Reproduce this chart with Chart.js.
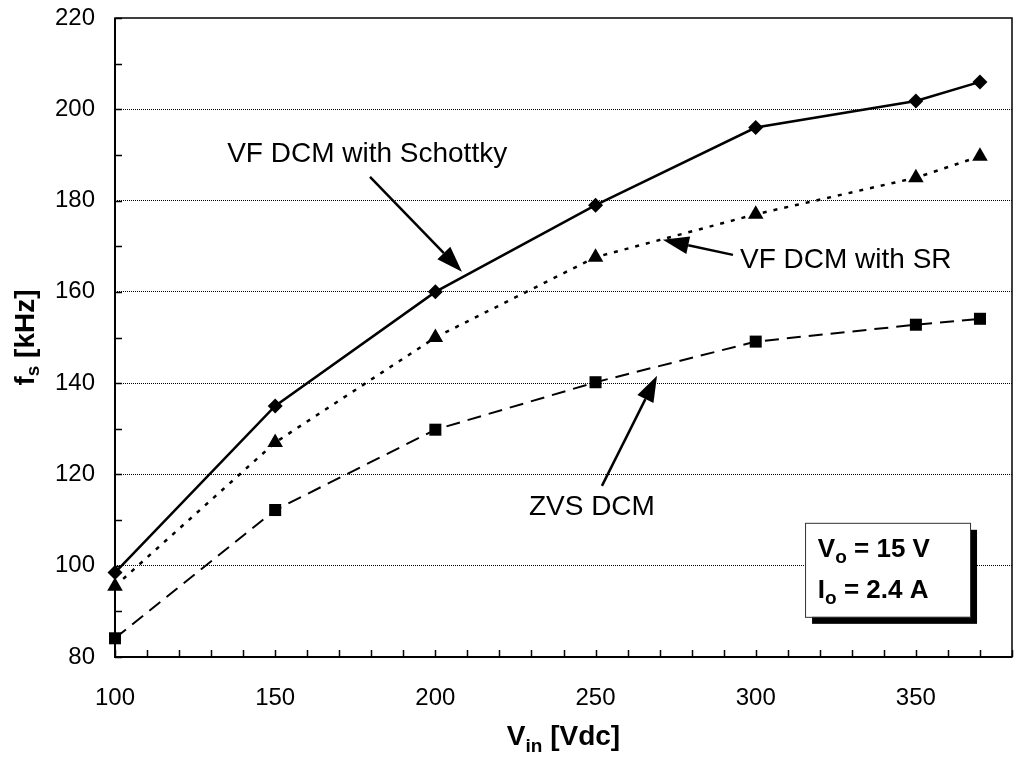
<!DOCTYPE html>
<html>
<head>
<meta charset="utf-8">
<script src="https://cdn.jsdelivr.net/npm/chart.js@4/dist/chart.umd.min.js"></script>
<style>
  html, body { margin: 0; padding: 0; background: #fff; }
</style>
</head>
<body>
<canvas id="fs-chart" width="1016" height="761"></canvas>
<script>
// input voltage (Vdc) and switching frequency (kHz)
const vin = [100, 150, 200, 250, 300, 350, 370]
const fsSchottky = [98.5, 135, 160, 179, 196, 201.8, 206]
const fsSR = [95.5, 127, 150, 167.6, 177, 185, 189.7]
const fsZVS = [84.1, 112.2, 129.8, 140.2, 149.1, 152.8, 154.1]

const xLabelStep = 50
const yLabelStep = 20

// callouts, anchored in data units (V, kHz)
const callouts = [
  { text: 'VF DCM with Schottky', at: [135.0, 188.5], from: [179.6, 185.2], to: [208.3, 164.4] },
  { text: 'VF DCM with SR', at: [295.1, 165.2], from: [292.9, 168.1], to: [271.0, 171.4] },
  { text: 'ZVS DCM', at: [229.2, 111.1], from: [252.0, 117.5], to: [269.2, 141.6] }
]
const noteBox = { x1: 315.4, x2: 366.9, y1: 109.4, y2: 88.8 }
const noteLines = [
  { at: [319.4, 101.9], parts: [['V', false], ['o', true], [' = 15 V', false]] },
  { at: [319.4, 92.9], parts: [['I', false], ['o', true], [' = 2.4 A', false]] }
]

const FONT = '"Liberation Sans", Arial, sans-serif'
const ctx = document.getElementById('fs-chart').getContext('2d')

const toPoints = (ys) => vin.map((x, i) => ({ x: x, y: ys[i] }))

// keep the plot box exactly where the padding puts it
const noScalePadding = (s) => {
  s.paddingLeft = 0
  s.paddingRight = 0
  s.paddingTop = 0
  s.paddingBottom = 0
}

// text with subscripts, drawn left to right from x (or centered on x)
const drawRich = (c, parts, x, y, size, subSize, subDrop, centered) => {
  const widths = parts.map(([t, sub]) => {
    c.font = 'bold ' + (sub ? subSize : size) + 'px ' + FONT
    return c.measureText(t).width
  })
  let cx = centered ? x - widths.reduce((a, b) => a + b, 0) / 2 : x
  parts.forEach(([t, sub], i) => {
    c.font = 'bold ' + (sub ? subSize : size) + 'px ' + FONT
    c.fillText(t, cx, sub ? y + subDrop : y)
    cx += widths[i]
  })
}

const drawArrow = (c, x1, y1, x2, y2) => {
  const ang = Math.atan2(y2 - y1, x2 - x1)
  const len = 26
  const half = 9
  const bx = x2 - len * Math.cos(ang)
  const by = y2 - len * Math.sin(ang)
  c.lineWidth = 2.5
  c.beginPath()
  c.moveTo(x1, y1)
  c.lineTo(bx, by)
  c.stroke()
  c.beginPath()
  c.moveTo(x2, y2)
  c.lineTo(bx + half * Math.sin(ang), by - half * Math.cos(ang))
  c.lineTo(bx - half * Math.sin(ang), by + half * Math.cos(ang))
  c.closePath()
  c.fill()
}

const framePlugin = {
  id: 'frame',
  beforeDatasetsDraw (chart) {
    const c = chart.ctx
    const { left, right, top, bottom } = chart.chartArea
    const xs = chart.scales.x
    const ys = chart.scales.y
    c.save()
    c.strokeStyle = '#000'
    c.lineWidth = 1.5
    c.strokeRect(left, top, right - left, bottom - top)
    c.lineWidth = 2
    c.beginPath()
    c.moveTo(left, top)
    c.lineTo(left, bottom)
    c.lineTo(right, bottom)
    c.stroke()
    // inward tick marks
    c.lineWidth = 1.5
    c.beginPath()
    xs.ticks.forEach(t => {
      const px = Math.round(xs.getPixelForValue(t.value)) + 0.5
      c.moveTo(px, bottom)
      c.lineTo(px, bottom - 7)
    })
    ys.ticks.forEach(t => {
      const py = Math.round(ys.getPixelForValue(t.value)) + 0.5
      c.moveTo(left, py)
      c.lineTo(left + 7, py)
    })
    c.stroke()
    c.restore()
  },
  afterDraw (chart) {
    const c = chart.ctx
    const xs = chart.scales.x
    const ys = chart.scales.y
    const { left, right, top, bottom } = chart.chartArea
    const px = (v) => xs.getPixelForValue(v)
    const py = (v) => ys.getPixelForValue(v)
    c.save()
    c.fillStyle = '#000'
    c.strokeStyle = '#000'
    c.textBaseline = 'alphabetic'
    c.textAlign = 'left'

    // axis titles
    drawRich(c, [['V', false], ['in', true], [' [Vdc]', false]], (left + right) / 2, 745, 28, 19, 7, true)
    c.save()
    c.translate(34, (top + bottom) / 2)
    c.rotate(-Math.PI / 2)
    drawRich(c, [['f', false], ['s', true], [' [kHz]', false]], 0, 0, 28, 19, 5, true)
    c.restore()

    // callouts
    c.font = '28px ' + FONT
    callouts.forEach(a => {
      c.fillText(a.text, px(a.at[0]), py(a.at[1]))
      drawArrow(c, px(a.from[0]), py(a.from[1]), px(a.to[0]), py(a.to[1]))
    })

    // condition box with drop shadow
    const bx = px(noteBox.x1)
    const by = py(noteBox.y1)
    const bw = px(noteBox.x2) - bx
    const bh = py(noteBox.y2) - by
    c.fillRect(bx + 7, by + 7, bw, bh)
    c.fillStyle = '#fff'
    c.fillRect(bx, by, bw, bh)
    c.lineWidth = 1
    c.strokeStyle = '#333'
    c.strokeRect(bx + 0.5, by + 0.5, bw, bh)
    c.fillStyle = '#000'
    noteLines.forEach(l => {
      drawRich(c, l.parts, px(l.at[0]), py(l.at[1]), 26, 19, 6, false)
    })
    c.restore()
  }
}

const chart = new Chart(ctx, {
  type: 'scatter',
  data: {
    datasets: [
      {
        label: 'VF DCM with Schottky',
        data: toPoints(fsSchottky),
        showLine: true,
        borderColor: '#000',
        backgroundColor: '#000',
        borderWidth: 2.5,
        pointStyle: 'rectRot',
        pointRadius: 7.5,
        pointBorderWidth: 0,
        clip: false
      },
      {
        label: 'VF DCM with SR',
        data: toPoints(fsSR),
        showLine: true,
        borderColor: '#000',
        backgroundColor: '#000',
        borderWidth: 2.5,
        borderDash: [4, 7],
        pointStyle: 'triangle',
        pointRadius: 9,
        pointBorderWidth: 0,
        clip: false
      },
      {
        label: 'ZVS DCM',
        data: toPoints(fsZVS),
        showLine: true,
        borderColor: '#000',
        backgroundColor: '#000',
        borderWidth: 2,
        borderDash: [14, 8],
        pointStyle: 'rect',
        pointRadius: 8.5,
        pointBorderWidth: 0,
        clip: false
      }
    ]
  },
  options: {
    responsive: false,
    animation: false,
    layout: { autoPadding: false, padding: { top: 18, right: 4, left: 0, bottom: 0 } },
    plugins: {
      legend: { display: false },
      tooltip: { enabled: false }
    },
    scales: {
      x: {
        type: 'linear',
        min: 100,
        max: 380,
        afterFit: (s) => { s.height = 104; noScalePadding(s) },
        grid: { display: false },
        border: { display: false },
        ticks: {
          stepSize: 10,
          autoSkip: false,
          maxRotation: 0,
          padding: 19,
          color: '#000',
          font: { family: FONT, size: 24 },
          callback: (v) => (v % xLabelStep === 0 && v < 380 ? v : '')
        }
      },
      y: {
        min: 80,
        max: 220,
        afterFit: (s) => { s.width = 115; noScalePadding(s) },
        grid: {
          drawTicks: false,
          lineWidth: 1,
          color: (c) => {
            const v = c.tick ? c.tick.value : 0
            return (v % yLabelStep === 0 && v > 80 && v < 220) ? '#000' : 'rgba(0,0,0,0)'
          }
        },
        border: { display: false, dash: [1, 1] },
        ticks: {
          stepSize: 10,
          autoSkip: false,
          padding: 20,
          color: '#000',
          font: { family: FONT, size: 24 },
          callback: (v) => (v % yLabelStep === 0 ? v : '')
        }
      }
    }
  },
  plugins: [framePlugin]
})
</script>
</body>
</html>
